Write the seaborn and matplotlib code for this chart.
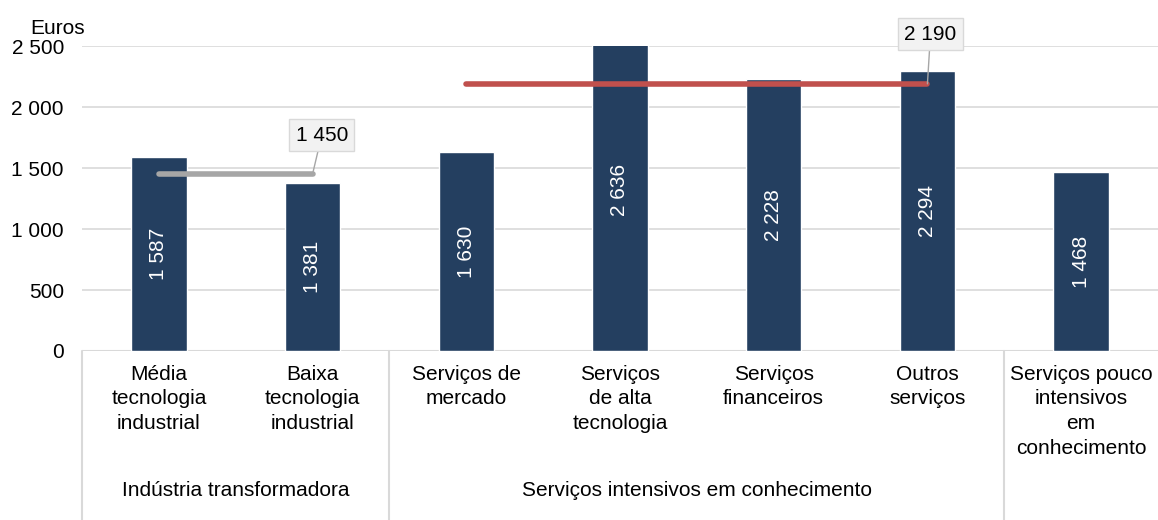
import matplotlib
matplotlib.use("Agg")
import matplotlib.pyplot as plt
import pandas as pd
import seaborn as sns

# data
categories = [
    "Média\ntecnologia\nindustrial",
    "Baixa\ntecnologia\nindustrial",
    "Serviços de\nmercado",
    "Serviços\nde alta\ntecnologia",
    "Serviços\nfinanceiros",
    "Outros\nserviços",
    "Serviços pouco\nintensivos\nem\nconhecimento",
]
values = [1587, 1381, 1630, 2636, 2228, 2294, 1468]
groups = ["Indústria transformadora", "Serviços intensivos em conhecimento", ""]
group_spans = [(0, 1), (2, 5), (6, 6)]
avg_values = [1450, 2190]
avg_colors = ["#A6A6A6", "#C0504D"]
yticks = [0, 500, 1000, 1500, 2000, 2500]


def fmt(v):
    return f"{v:,}".replace(",", " ")


sns.set_style("white")
plt.rcParams["font.family"] = ["Liberation Sans", "DejaVu Sans"]
plt.rcParams["text.color"] = "black"
plt.rcParams["ytick.color"] = "black"

FS = 15

df = pd.DataFrame({"cat": categories, "val": values})

fig = plt.figure(figsize=(11.58, 5.2), dpi=100)
ax = fig.add_axes([0.0708, 0.325, 0.9292, 0.5865])

sns.barplot(data=df, x="cat", y="val", color="#243F60", width=0.36,
            saturation=1, ax=ax, zorder=2)
ax.set_ylim(0, 2500)
ax.set_xlim(-0.5, len(categories) - 0.5)
ax.set_yticks(yticks)
ax.set_yticklabels([fmt(t) for t in yticks], fontsize=FS)
ax.tick_params(axis="y", length=0, pad=13)
ax.set_xticks([])
ax.set_xlabel("")
ax.set_ylabel("")
for s in ax.spines.values():
    s.set_visible(False)
ax.yaxis.grid(True, color="#D9D9D9", lw=1.2, zorder=0)
ax.axhline(0, color="#D9D9D9", lw=1.5, zorder=1)

# value labels inside bars
for i, v in enumerate(values):
    ax.text(i, v / 2, fmt(v), rotation=90, ha="center", va="center",
            color="white", fontsize=FS, zorder=4)

# average lines with callouts
spans = [(0, 1), (2, 5)]
box_pos = [(1.06, 1770), (5.02, 2598)]
for (a, b), v, c, (bx, by) in zip(spans, avg_values, avg_colors, box_pos):
    ax.plot([a, b], [v, v], color=c, lw=4, solid_capstyle="round", zorder=3)
    ax.annotate(fmt(v), xy=(b, v), xytext=(bx, by), fontsize=FS,
                ha="center", va="center", annotation_clip=False,
                bbox=dict(boxstyle="square,pad=0.3", fc="#F2F2F2",
                          ec="#D9D9D9", lw=1),
                arrowprops=dict(arrowstyle="-", color="#A6A6A6", lw=1,
                                shrinkA=0, shrinkB=0),
                zorder=5)

# multi-level x axis
tr = ax.get_xaxis_transform()
for i, lab in enumerate(categories):
    ax.text(i, -0.045, lab, transform=tr, ha="center", va="top",
            fontsize=FS, linespacing=1.38, clip_on=False)
for (a, b), g in zip(group_spans, groups):
    ax.text((a + b) / 2, -0.456, g, transform=tr, ha="center", va="center",
            fontsize=FS, clip_on=False)
for x in [-0.5, 1.5, 5.5]:
    ax.plot([x, x], [0, -0.56], transform=tr, color="#D9D9D9", lw=1.5,
            clip_on=False)

fig.text(0.026, 0.945, "Euros", fontsize=FS, ha="left", va="center")

plt.savefig("out.png", dpi=100)
